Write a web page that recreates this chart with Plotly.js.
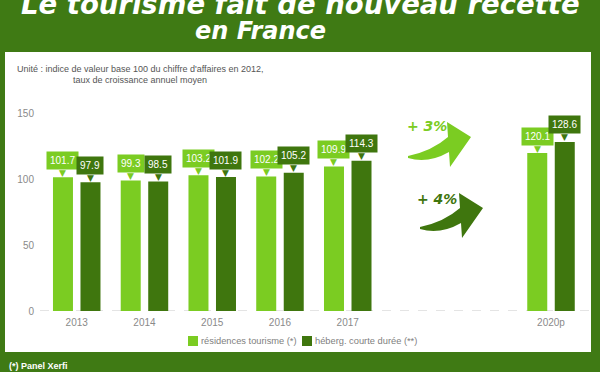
<!DOCTYPE html>
<html>
<head>
<meta charset="utf-8">
<script src="https://cdn.plot.ly/plotly-3.0.1.min.js"></script>
<style>html,body{margin:0;padding:0;background:#3f7a14;}#chart{width:600px;height:372px;}</style>
</head>
<body>
<div id="chart"></div>
<script>
// ---- data ----
const years = [2013, 2014, 2015, 2016, 2017, 2020];
const yearLabels = ['2013', '2014', '2015', '2016', '2017', '2020p'];
const residences = [101.7, 99.3, 103.2, 102.2, 109.9, 120.1];
const hebergement = [97.9, 98.5, 101.9, 105.2, 114.3, 128.6];
const seriesNames = ['résidences tourisme (*)', 'héberg. courte durée (**)'];
const growthLabels = ['+ 3%', '+ 4%'];
const yTicks = [0, 50, 100, 150];

// ---- style ----
const LIGHT = '#7bcc22';
const DARK = '#3f760e';
const BG = '#3f7a14';
const W = 600, H = 372;
const M = {l: 40, r: 8, t: 101, b: 61};
const PW = W - M.l - M.r, PH = H - M.t - M.b;
const px = x => (x - M.l) / PW;
const py = y => 1 - (y - M.t) / PH;
const BAR_SHIFT = 13.75;

function arrowPath(dx, dy) {
  const pts = (x, y) => px(x + dx) + ',' + py(y + dy);
  return 'M' + pts(408, 156) +
    ' Q' + pts(432, 151) + ' ' + pts(448, 137) +
    ' L' + pts(447, 122) +
    ' L' + pts(471, 137) +
    ' L' + pts(450, 167) +
    ' L' + pts(449, 152) +
    ' Q' + pts(428, 164) + ' ' + pts(408, 158) + ' Z';
}

const traces = [
  {type: 'bar', x: years, y: residences, name: seriesNames[0],
   marker: {color: LIGHT}, hoverinfo: 'none'},
  {type: 'bar', x: years, y: hebergement, name: seriesNames[1],
   marker: {color: DARK}, hoverinfo: 'none'}
];

const annotations = [];
const titleFont = {family: 'DejaVu Sans', color: '#ffffff', weight: 'bold', style: 'italic'};
annotations.push({xref: 'paper', yref: 'paper', x: px(300), y: py(4), xanchor: 'center', yanchor: 'middle',
  text: 'Le tourisme fait de nouveau recette', showarrow: false, font: Object.assign({size: 27.5}, titleFont)});
annotations.push({xref: 'paper', yref: 'paper', x: px(260), y: py(31), xanchor: 'center', yanchor: 'middle',
  text: 'en France', showarrow: false, font: Object.assign({size: 24}, titleFont)});
const noteFont = {family: 'Liberation Sans, Arial', size: 9, color: '#555'};
annotations.push({xref: 'paper', yref: 'paper', x: px(15), y: py(69), xanchor: 'left', yanchor: 'middle',
  text: "Unité : indice de valeur base 100 du chiffre d'affaires en 2012,", showarrow: false, font: noteFont});
annotations.push({xref: 'paper', yref: 'paper', x: px(71), y: py(80), xanchor: 'left', yanchor: 'middle',
  text: 'taux de croissance annuel moyen', showarrow: false, font: noteFont});
annotations.push({xref: 'paper', yref: 'paper', x: px(7), y: py(366), xanchor: 'left', yanchor: 'middle',
  text: '(*) Panel Xerfi', showarrow: false,
  font: {family: 'Liberation Sans, Arial', size: 9, color: '#ffffff', weight: 'bold'}});
const growthFont = {family: 'DejaVu Sans', size: 14, weight: 'bold', style: 'italic'};
annotations.push({xref: 'paper', yref: 'paper', x: px(427), y: py(126), xanchor: 'center', yanchor: 'middle',
  text: growthLabels[0], showarrow: false, font: Object.assign({color: LIGHT}, growthFont)});
annotations.push({xref: 'paper', yref: 'paper', x: px(437), y: py(199), xanchor: 'center', yanchor: 'middle',
  text: growthLabels[1], showarrow: false, font: Object.assign({color: DARK}, growthFont)});

// custom legend (keys beside the text, as in the reference)
const legendFont = {family: 'Liberation Sans, Arial', size: 9.3, color: '#808080'};
const legendItems = [{name: seriesNames[0], color: LIGHT, x: 188}, {name: seriesNames[1], color: DARK, x: 302}];
legendItems.forEach(it => {
  annotations.push({xref: 'paper', yref: 'paper', x: px(it.x + 11), y: py(341), xanchor: 'left', yanchor: 'middle',
    text: it.name, showarrow: false, font: legendFont});
});

function addLabels(vals, color, shift) {
  vals.forEach((v, i) => {
    annotations.push({x: years[i], y: v, xref: 'x', yref: 'y', text: '▼', showarrow: false,
      xshift: shift, yshift: 4.5, yanchor: 'middle',
      font: {family: 'DejaVu Sans', size: 9, color: color}});
    annotations.push({x: years[i], y: v, xref: 'x', yref: 'y', text: v.toFixed(1), showarrow: false,
      xshift: shift, yshift: 17, yanchor: 'middle', bgcolor: color, borderpad: 3,
      font: {family: 'Liberation Sans, Arial', size: 10, color: '#ffffff'}});
  });
}
addLabels(residences, LIGHT, -BAR_SHIFT);
addLabels(hebergement, DARK, BAR_SHIFT);

const shapes = [
  {type: 'rect', xref: 'paper', yref: 'paper', x0: px(5), x1: px(591), y0: py(352), y1: py(52),
   fillcolor: '#ffffff', line: {width: 0}, layer: 'below'},
  {type: 'line', xref: 'paper', yref: 'y', x0: 0, x1: 1, y0: 0, y1: 0,
   line: {color: '#c8c8c8', width: 1, dash: 'dash'}, layer: 'below'},
  {type: 'path', xref: 'paper', yref: 'paper', path: arrowPath(0, 0), fillcolor: LIGHT, line: {width: 0}},
  {type: 'path', xref: 'paper', yref: 'paper', path: arrowPath(12, 71), fillcolor: DARK, line: {width: 0}}
];
legendItems.forEach(it => {
  shapes.push({type: 'rect', xref: 'paper', yref: 'paper', x0: px(it.x), x1: px(it.x + 10),
    y0: py(346), y1: py(336), fillcolor: it.color, line: {width: 0}});
});

const layout = {
  width: W, height: H,
  margin: M,
  paper_bgcolor: BG,
  plot_bgcolor: 'rgba(0,0,0,0)',
  barmode: 'group',
  bargap: 0.188,
  bargroupgap: 0.273,
  showlegend: false,
  xaxis: {range: [2012.458, 2020.605], tickvals: years, ticktext: yearLabels,
    showgrid: false, zeroline: false, showline: false, ticks: '', ticklabelstandoff: 4,
    tickfont: {family: 'Liberation Sans, Arial', size: 10, color: '#8a8a8a'}},
  yaxis: {range: [0, 159.7], tickvals: yTicks, showgrid: false, zeroline: false, showline: false, ticks: '',
    ticklabelstandoff: 5,
    tickfont: {family: 'Liberation Sans, Arial', size: 10, color: '#8a8a8a'}},
  shapes: shapes,
  annotations: annotations
};

Plotly.newPlot('chart', traces, layout, {displayModeBar: false, staticPlot: true});
</script>
</body>
</html>
